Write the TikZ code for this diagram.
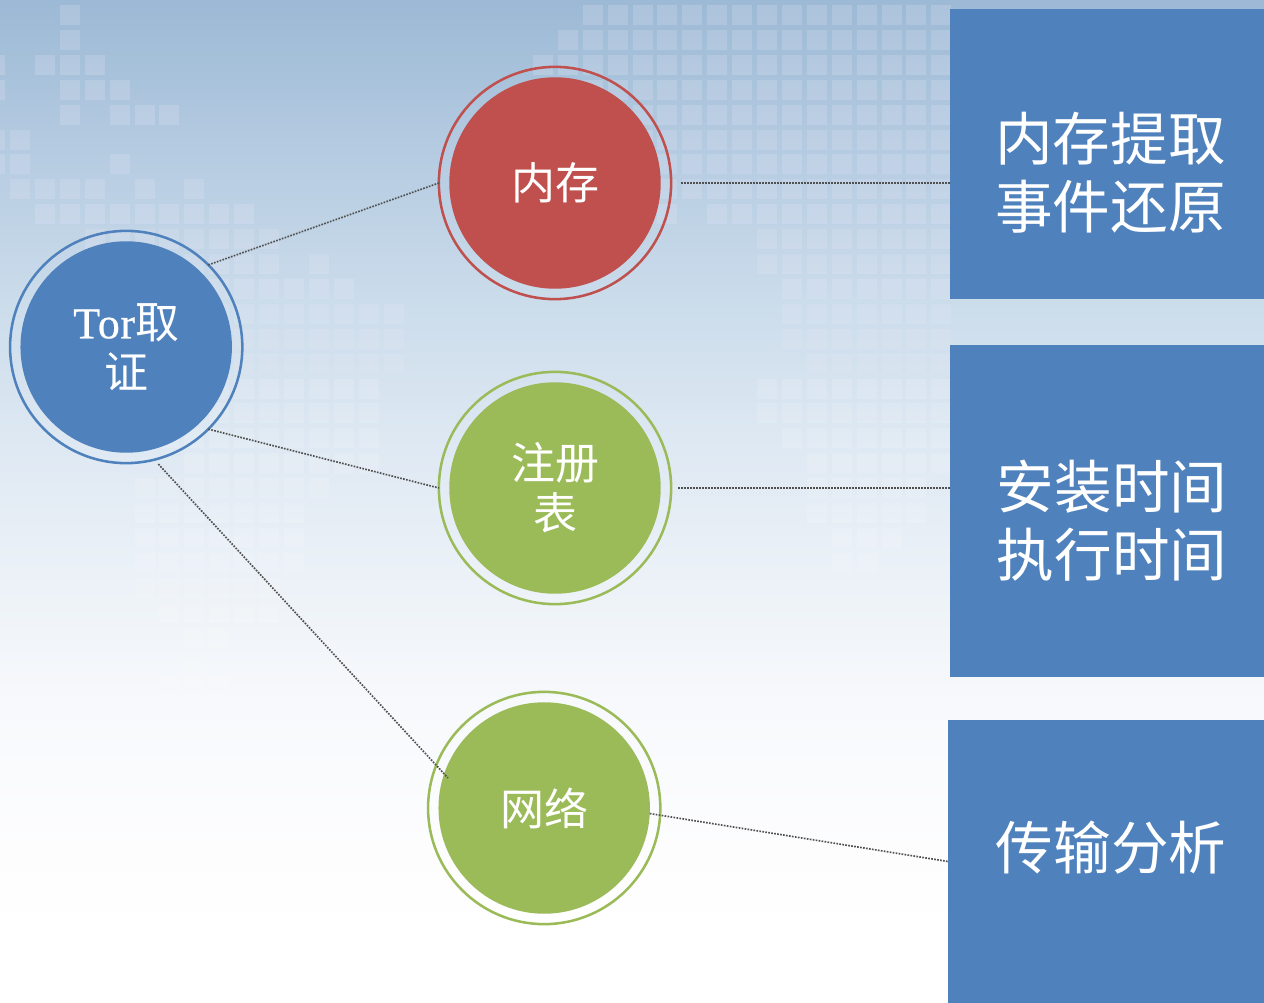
\documentclass[tikz,border=0pt]{standalone}
\usepackage{fontspec}
\setmainfont{Liberation Serif}
\newfontfamily\cjk{Noto Sans CJK SC}
\newfontfamily\torfont[FakeBold=0.6,LetterSpace=1.5]{Liberation Serif}
\definecolor{bgA}{HTML}{9CB9D5}
\definecolor{bgB}{HTML}{B5CBE1}
\definecolor{bgC}{HTML}{CBDCEB}
\definecolor{bgD}{HTML}{DFE9F3}
\definecolor{bgE}{HTML}{EEF3F8}
\definecolor{bgF}{HTML}{F7F9FC}
\definecolor{bgG}{HTML}{FDFDFE}
\definecolor{cellc}{HTML}{E8E8F6}
\definecolor{bluec}{HTML}{4F81BD}
\definecolor{redc}{HTML}{C0504D}
\definecolor{greenc}{HTML}{9BBB59}
\definecolor{linec}{HTML}{505050}
\pgfdeclareverticalshading{bggrad}{100bp}{color(0bp)=(white); color(25bp)=(white); color(28.6bp)=(white); color(32.6bp)=(bgG); color(40bp)=(bgF); color(45bp)=(bgE); color(52.6bp)=(bgD); color(60bp)=(bgC); color(67.5bp)=(bgB); color(75bp)=(bgA); color(100bp)=(bgA)}
\tikzset{
  cell/.style={fill=cellc,fill opacity=0.22},
  lowcell/.style={fill=white,fill opacity=0.14},
  disc/.style={circle,minimum size=158.6pt,inner sep=0pt,outer sep=0pt,text=white,align=center,font=\cjk\fontsize{33}{37.5}\selectfont},
  ring/.style={circle,minimum size=174.2pt,inner sep=0pt,outer sep=0pt,draw,line width=1.9pt},
  panel/.style={fill=bluec,draw=none,inner sep=0pt,outer sep=0pt},
  paneltext/.style={text=white,align=center,inner sep=0pt,font=\cjk\fontsize{43.2}{51}\selectfont},
  link/.style={draw=linec,line width=1.25pt,dash pattern=on 1.25pt off 1pt}
}
\begin{document}
\begin{tikzpicture}[x=0.75pt,y=-0.75pt]
\useasboundingbox (0,0) rectangle (1264,1003);
\shade[shading=bggrad] (0,0) rectangle (1264,1003);
% world-map squares: row / first column / last column
\begin{scope}
\clip (0,0) rectangle (1264,1003);
\foreach \r/\a/\b in {0/2/2,1/2/2,2/-1/-1,2/1/3,3/-1/-1,3/2/4,4/2/2,4/4/6,5/-1/0,6/-1/0,6/4/4,
  7/0/3,7/5/5,7/7/7,8/1/9,9/3/10,10/4/10,10/12/12,11/4/13,12/4/15,13/4/15,14/4/15,
  0/23/37,1/22/37,2/21/37,3/22/37,4/22/37,5/22/37,6/22/37,7/26/37,8/26/26,8/28/37,
  9/30/37,10/30/37,11/31/37,12/31/37,13/31/37,14/32/37}
{
  \foreach \c in {\a,...,\b}
    \path[cell] ({10+24.9*\c},{5+24.9*\r}) rectangle ++(20,20);
}
\foreach \r/\a/\b in {15/4/14,16/4/14,17/4/14,18/7/14,19/5/12,20/5/11,21/5/11,22/5/11,23/5/10,24/6/10,25/7/8,26/7/7,27/6/8,
  15/30/37,16/30/37,17/31/37,18/32/37,19/32/36,20/32/36,21/33/35,22/33/34}
{
  \foreach \c in {\a,...,\b}
    \path[lowcell] ({10+24.9*\c},{5+24.9*\r}) rectangle ++(20,20);
}
\end{scope}
% panels
\node[panel,minimum width=235.5pt,minimum height=217.5pt] (boxa) at (1107,154) {};
\node[panel,minimum width=235.5pt,minimum height=249pt] (boxb) at (1107,511) {};
\node[panel,minimum width=237pt,minimum height=212.25pt] (boxc) at (1106,861.5) {};
\node[paneltext] (ta) at (1110.5,173) {内存提取\\事件还原};
\node[paneltext] (tb) at (1112,521) {安装时间\\执行时间};
\node[paneltext] (tc) at (1111,848) {传输分析};
% circles
\node[ring,draw=bluec] (ringb) at (126.2,347) {};
\node[disc,fill=bluec] (cb) at (126.2,347) {{\torfont Tor}取\\证};
\node[ring,draw=redc] (ringr) at (555,183) {};
\node[disc,fill=redc] (cr) at (555,183) {内存};
\node[ring,draw=greenc] (ringg) at (555,488) {};
\node[disc,fill=greenc] (cg) at (555,488) {注册\\表};
\node[ring,draw=greenc] (ringn) at (544.2,808) {};
\node[disc,fill=greenc] (cn) at (544.2,808) {网络};
% connectors
\coordinate (netin) at (448,778);
\draw[link] (ringb.45) -- (ringr.180);
\draw[link] (ringb.-45) -- (ringg.180);
\draw[link,shorten <=4.5pt] (ringb.-76.5) -- (netin);
\draw[link,shorten <=7.5pt] (ringr.0) -- (ringr.0 -| boxa.west);
\draw[link,shorten <=5.25pt] (ringg.0) -- (ringg.0 -| boxb.west);
\draw[link] (cn.-3.8) -- (boxc.west);
\end{tikzpicture}
\end{document}
